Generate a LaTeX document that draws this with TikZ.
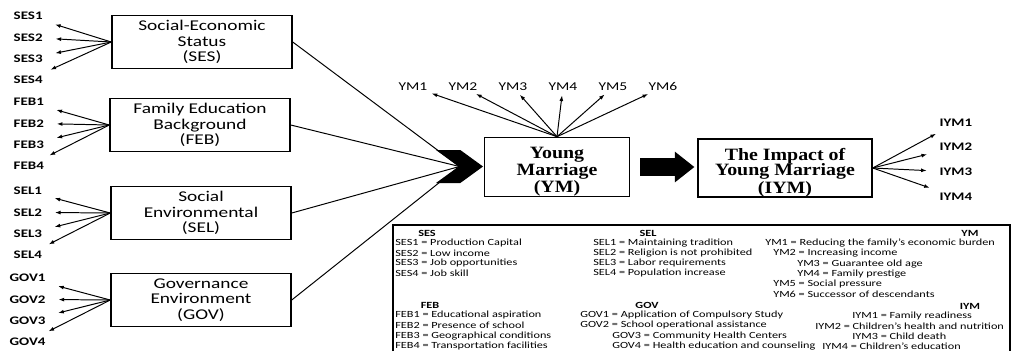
\documentclass[tikz,border=0pt]{standalone}
\usepackage{fontspec}
\setmainfont{Carlito}[FakeStretch=1.3]
\newfontfamily\titlefont{Liberation Serif}[FakeStretch=1.15]
\usetikzlibrary{arrows.meta, positioning, shapes.symbols}
\newcommand*{\topgap}{\rule{0pt}{15pt}}
\tikzstyle{block} = [draw, line width=1pt, rectangle, align=center, inner sep=0pt]
\tikzstyle{factor} = [block, minimum width=4.5cm, minimum height=1.33cm, font=\fontsize{10.6}{11}\selectfont]
\tikzstyle{outcome} = [block, minimum height=1.33cm, font=\titlefont\bfseries\fontsize{12.3}{11.2}\selectfont]
\tikzstyle{item} = [inner sep=1pt, font=\bfseries\fontsize{8.2}{9}\selectfont]
\tikzstyle{ymitem} = [inner sep=1pt, font=\fontsize{8.5}{9}\selectfont]
\tikzstyle{path} = [-{Latex[length=4pt, width=2.8pt]}, line width=0.7pt]
\tikzstyle{key} = [anchor=west, inner sep=0pt, font=\fontsize{6.7}{7.3}\selectfont]
\tikzstyle{keyhead} = [inner sep=0pt, font=\bfseries\fontsize{6.7}{7.3}\selectfont]

\begin{document}
\begin{tikzpicture}[x=0.025cm, y=-0.025cm]
    \useasboundingbox (0,0) rectangle (1012,351);

    % Nodes.

    % Factors.
    \node (node ses) [factor] at (202,42) {Social-Economic\\Status\\(SES)};
    \node (node feb) [factor] at (200,125) {Family Education\\Background\\(FEB)};
    \node (node sel) [factor] at (201,213) {Social\\Environmental\\(SEL)};
    \node (node gov) [factor] at (201,300) {Governance\\Environment\\(GOV)};

    % Outcomes.
    \node (node ym) [outcome, minimum width=3.625cm] at (557,167) {\topgap Young\\Marriage\\(YM)};
    \node (node iym) [outcome, minimum width=4.35cm, minimum height=1.375cm] at (785,168) {\topgap The Impact of\\Young Marriage\\(IYM)};

    % Chevron.
    \node (chevron) [signal, signal from=west, signal to=east, signal pointer angle=72, fill, minimum width=1.175cm, minimum height=0.825cm, inner sep=0pt] at (459.5,166.5) {};

    % Indicators of the factors.
    \foreach \n/\N/\base/\left in {ses/SES/16/12, feb/FEB/102/12, sel/SEL/191/12, gov/GOV/278/8} {
        \foreach \i in {1, ..., 4} {
            \node (item \n\i) [item, anchor=west] at (\left, {\base + 21.3*\i - 21.3}) {\N\i};
            \draw [path, shorten >=8pt] (node \n.west) -- (item \n\i);
        }
    }

    % Indicators of YM.
    \foreach \i/\x in {1/413, 2/463, 3/513, 4/563, 5/613, 6/663} {
        \node (item ym\i) [ymitem] at (\x,87) {YM\i};
        \draw [path, shorten >=2pt] (node ym.north) -- (item ym\i);
    }

    % Indicators of IYM.
    \foreach \i/\y in {1/123, 2/147, 3/172, 4/197} {
        \node (item iym\i) [item, anchor=west] at (938,\y) {IYM\i};
        \draw [path, shorten >=8pt] (node iym.east) -- (item iym\i);
    }

    % Lines into the chevron.
    \foreach \n in {ses, feb, sel, gov} {
        \draw [line width=0.7pt] (node \n.east) -- (chevron.center);
    }

    % Big arrow.
    \draw [-{Triangle[width=21pt, length=14pt]}, line width=12.5pt, shorten <=7pt, shorten >=2pt] (node ym.east) -- (node ym.east -| node iym.west);

    % Legend.
    \draw [line width=1pt] (393,351) -- (393,225) -- (1010,225) -- (1010,351);

    \node (key ses) [keyhead] at (427,233) {SES};
    \foreach \i/\t in {1/Production Capital, 2/Low income, 3/Job opportunities, 4/Job skill} {
        \node (key ses\i) [key] at (395, {233 + 10*\i}) {SES\i{} = \t};
    }

    \node (key sel) [keyhead] at (648,233) {SEL};
    \foreach \i/\t in {1/Maintaining tradition, 2/Religion is not prohibited, 3/Labor requirements, 4/Population increase} {
        \node (key sel\i) [key] at (593, {233 + 10*\i}) {SEL\i{} = \t};
    }

    \node (key ym) [keyhead] at (970,233) {YM};
    \foreach \i/\x/\t in {1/765/Reducing the family's economic burden, 2/773/Increasing income, 3/797/Guarantee old age, 4/797/Family prestige, 5/773/Social pressure, 6/773/Successor of descendants} {
        \node (key ym\i) [key] at (\x, {233 + 10.2*\i}) {YM\i{} = \t};
    }

    \node (key feb) [keyhead] at (430,305) {FEB};
    \foreach \i/\t in {1/Educational aspiration, 2/Presence of school, 3/Geographical conditions, 4/Transportation facilities} {
        \node (key feb\i) [key] at (395, {305 + 10.2*\i}) {FEB\i{} = \t};
    }

    \node (key gov) [keyhead] at (647,305) {GOV};
    \foreach \i/\x/\t in {1/580/Application of Compulsory Study, 2/580/School operational assistance, 3/612/Community Health Centers, 4/612/Health education and counseling} {
        \node (key gov\i) [key] at (\x, {305 + 10.2*\i}) {GOV\i{} = \t};
    }

    \node (key iym) [keyhead] at (970,306) {IYM};
    \foreach \i/\x/\t in {1/852/Family readiness, 2/815/Children's health and nutrition, 3/852/Child death, 4/822/Children's education} {
        \node (key iym\i) [key] at (\x, {306 + 10*\i}) {IYM\i{} = \t};
    }
\end{tikzpicture}
\end{document}
